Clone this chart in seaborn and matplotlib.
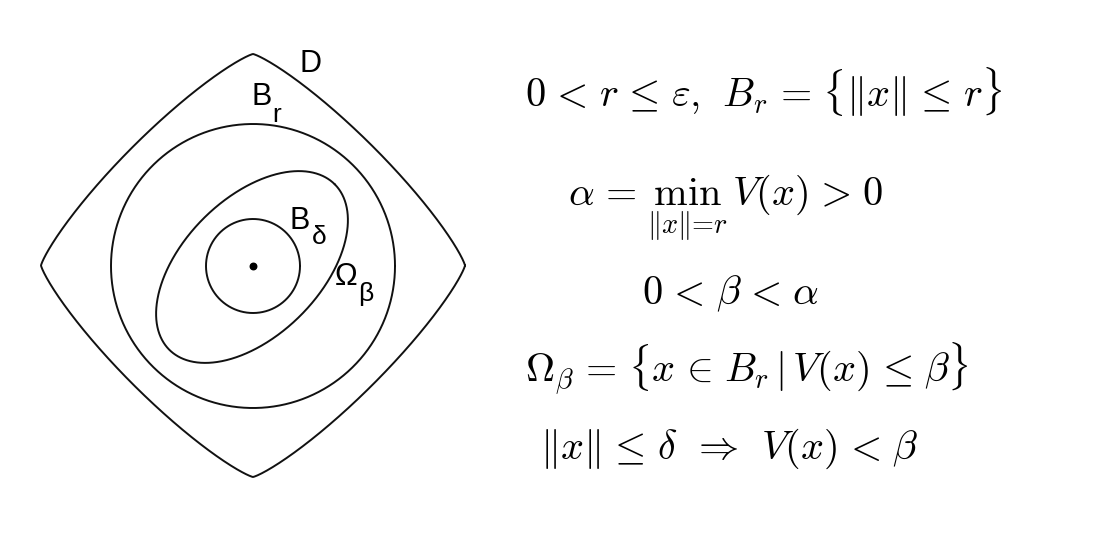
import numpy as np
import matplotlib
matplotlib.use('Agg')
import matplotlib.pyplot as plt
import seaborn as sns

# ─── Geometria del diagrama (pixeles de la imagen) ───
domain_center = [253, 265.5]
domain_half = [212, 211.5]
domain_power = [1.21]
ball_center = [253, 266]
ball_r_radius = [142]
ball_delta_radius = [47]
omega_center = [252, 267]
omega_axes = [117, 68.6]
omega_angle = [45]

# ─── Etiquetas ───
label_main = ['D', 'B', 'B', 'Ω']
label_main_pos = [(300, 72), (251, 105), (289, 229), (335, 285)]
label_sub = ['r', 'δ', 'β']
label_sub_pos = [(272, 122), (312, 244), (358, 301)]

# ─── Ecuaciones ('#' = espacio extra de relacion, como en LaTeX) ───
equations = [
    r'$0 #<# r #\leq# \varepsilon,\hspace{0.42}B_r #=# \{\|x\| #\leq# r\}$',
    r'$\alpha #=# \min_{\|x\|=r}\, V(x) \hspace{0.3}>\hspace{0.3} 0$',
    r'$0 #<# \beta #<# \alpha$',
    r'$\Omega_\beta #=# \{x #\in# B_r\,|\,V(x) #\leq# \beta\}$',
    r'$\|x\| #\leq# \delta \hspace{0.45}\Rightarrow\hspace{0.45} V(x) #<# \beta$',
]
equation_left = [525, 568, 642, 525, 540]
equation_baseline = [107, 205, 304, 382, 459]

sns.set_theme(style='white')
plt.rcParams['font.family'] = ['Liberation Sans', 'DejaVu Sans']
plt.rcParams['mathtext.fontset'] = 'cm'

fig = plt.figure(figsize=(11.12, 5.42), dpi=100)
ax = fig.add_axes([0, 0, 1, 1])
ax.set_xlim(0, 1112)
ax.set_ylim(542, 0)
ax.axis('off')

t = np.linspace(0, 2 * np.pi, 1200)


def curve(x, y):
    sns.lineplot(x=x, y=y, sort=False, estimator=None, color='#111111',
                 linewidth=1.4, ax=ax)


# dominio D (superelipse)
p = domain_power[0]
c, s = np.cos(t), np.sin(t)
curve(domain_center[0] + domain_half[0] * np.sign(c) * np.abs(c) ** (2 / p),
      domain_center[1] + domain_half[1] * np.sign(s) * np.abs(s) ** (2 / p))

# B_r y B_delta
for r in ball_r_radius + ball_delta_radius:
    curve(ball_center[0] + r * np.cos(t), ball_center[1] + r * np.sin(t))

# Omega_beta (elipse inclinada)
th = np.deg2rad(omega_angle[0])
a, b = omega_axes
ex = a * np.cos(t) * np.cos(th) - b * np.sin(t) * np.sin(th)
ey = a * np.cos(t) * np.sin(th) + b * np.sin(t) * np.cos(th)
curve(omega_center[0] + ex, omega_center[1] - ey)

# origen
ax.scatter([ball_center[0]], [ball_center[1]], s=22, color='black', zorder=3)

for txt, (x, y) in zip(label_main, label_main_pos):
    ax.text(x, y, txt, fontsize=22, ha='left', va='baseline', color='black')
for txt, (x, y) in zip(label_sub, label_sub_pos):
    ax.text(x, y, txt, fontsize=19, ha='left', va='baseline', color='black')

for eq, x, y in zip(equations, equation_left, equation_baseline):
    ax.text(x, y, eq.replace('#', r'\hspace{0.12}'), fontsize=29,
            ha='left', va='baseline', color='black')

plt.savefig('out.png', dpi=100)
